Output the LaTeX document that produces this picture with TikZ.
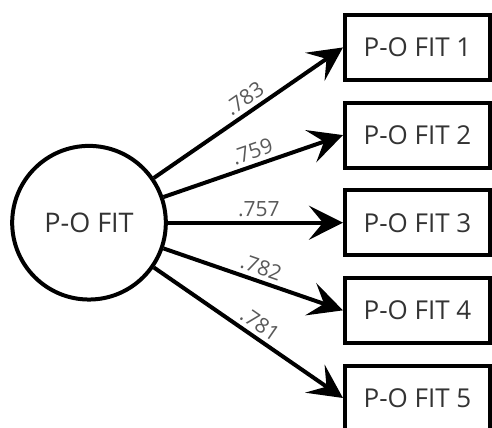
\documentclass[tikz,border=0pt]{standalone}
\usepackage{fontspec}
\setmainfont{Open Sans}
\usetikzlibrary{arrows.meta,positioning}

\tikzset{
  latent/.style={circle,draw,line width=2pt,minimum size=2.7cm,inner sep=0pt,
    text=black!80,font=\fontsize{13.5}{15}\selectfont},
  item/.style={rectangle,draw,line width=2pt,minimum width=2.55cm,minimum height=1.14cm,
    inner sep=0pt,text=black!80,font=\fontsize{13}{15}\selectfont},
  load/.style={line width=2pt,-{Stealth[length=17pt,width=17pt,inset=7pt]}},
  coef/.style={sloped,above,pos=0.52,inner sep=2pt,font=\fontsize{10.5}{12}\selectfont,text=black!65}
}

\begin{document}
\begin{tikzpicture}
  \useasboundingbox (0,0) rectangle (8.646,7.504);
  \node[latent] (lat) at (1.564,3.59) {P-O FIT};
  % indicators and their loadings
  \foreach \i/\v in {1/.783,2/.759,3/.757,4/.782,5/.781} {
    \node[item] (f\i) at (7.337,{3.59+(3-\i)*1.54}) {P-O FIT \i};
    \draw[load] (lat) -- (f\i.west) node[coef]{\v};
  }
\end{tikzpicture}
\end{document}
